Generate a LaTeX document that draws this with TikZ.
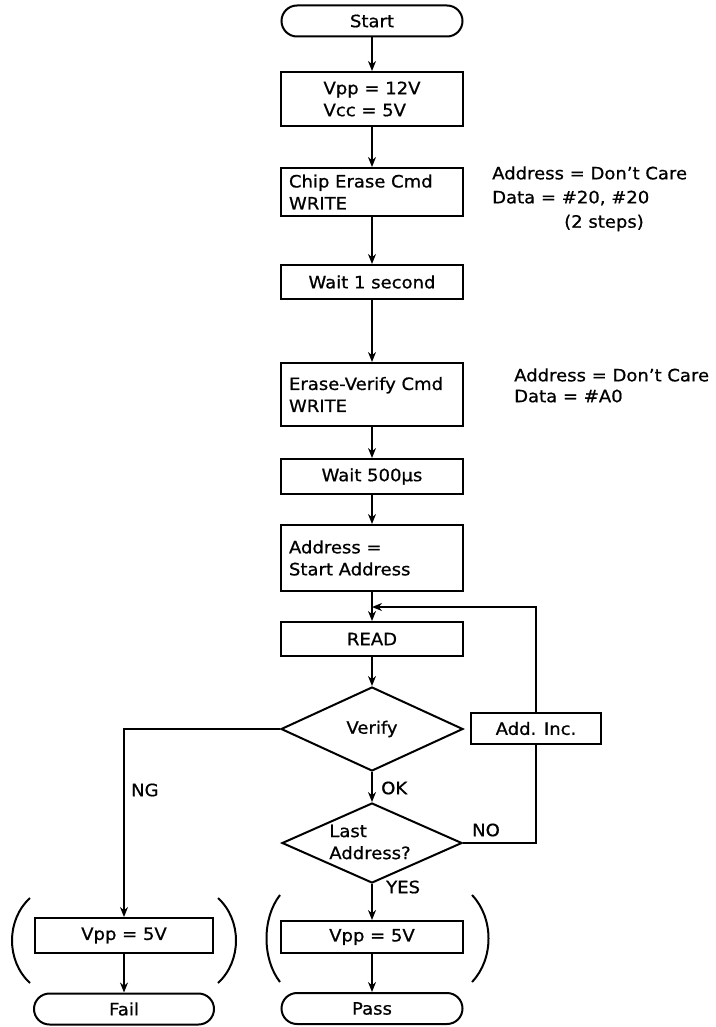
\documentclass[tikz,border=0pt]{standalone}
\usepackage{fontspec}
\setmainfont{DejaVu Sans}[FakeBold=0.8,FakeStretch=1.06]
\usetikzlibrary{shapes.geometric,shapes.misc,arrows.meta}
\begin{document}
\begin{tikzpicture}[x=1pt,y=-1pt,
  every node/.style={font=\fontsize{17}{22}\selectfont, inner sep=0pt},
  box/.style={draw, line width=2pt, rectangle, minimum width=182pt},
  lbox/.style={box, align=left, inner xsep=8pt, text width=166pt},
  term/.style={draw, line width=2pt, rounded rectangle, minimum width=181pt, minimum height=31pt},
  dia/.style={draw, line width=2pt, diamond},
  arr/.style={line width=1.7pt, -{Stealth[length=10pt,width=8pt]}},
  ln/.style={line width=1.7pt},
  par/.style={line width=2pt}
]
\useasboundingbox (0,0) rectangle (715,1027);

% main column
\node[term] (start) at (372,21) {Start};
\node[box, minimum height=54pt, align=left] (v1) at (372,99) {Vpp = 12V\\Vcc = 5V};
\node[lbox, minimum height=48pt] (chip) at (372,192) {Chip Erase Cmd\\WRITE};
\node[box, minimum height=34pt] (wait1) at (372,282) {Wait 1 second};
\node[lbox, minimum height=63pt] (ev) at (372,394.5) {Erase-Verify Cmd\\WRITE};
\node[box, minimum height=35pt] (wait500) at (372,476.5) {Wait 500µs};
\node[lbox, minimum height=66pt] (addr) at (372,558) {Address =\\Start Address};
\coordinate (j) at (372,607);
\node[box, minimum height=34pt] (read) at (372,639) {READ};
\node[dia, minimum width=182pt, minimum height=84pt] (verify) at (372,729) {};
\node (verifyt) at (372,729) {Verify};
\node[box, minimum width=130pt, minimum height=31pt] (addinc) at (536,728.5) {Add. Inc.};
\node[dia, minimum width=180pt, minimum height=80pt] (last) at (372,843) {};
\node[align=left] (lastt) at (370,842) {Last\\Address?};
\coordinate (nocorner) at (536,843);
\node[box, minimum height=32pt] (vppR) at (372,937) {Vpp = 5V};
\node[term] (pass) at (372,1008.5) {Pass};

% fail column
\node[box, minimum width=178pt, minimum height=35pt] (vppL) at (124,935.5) {Vpp = 5V};
\node[term, minimum width=180pt] (fail) at (124,1009) {Fail};

% annotations
\node[anchor=west] (a1) at (492,173) {Address = Don't Care};
\node[anchor=west] (a2) at (492,198) {Data = \#20, \#20};
\node[anchor=west] (a3) at (564,223) {(2 steps)};
\node[anchor=west] (b1) at (514,375) {Address = Don't Care};
\node[anchor=west] (b2) at (514,396) {Data = \#A0};

% labels
\node[anchor=west] (ok) at (381,788) {OK};
\node[anchor=west] (yes) at (386,887) {YES};
\node[anchor=west] (ng) at (131,790) {NG};
\node[anchor=west] (no) at (472,830) {NO};

% connectors
\draw[arr] (start.south) -- (v1.north);
\draw[arr] (v1.south) -- (chip.north);
\draw[arr] (chip.south) -- (wait1.north);
\draw[arr] (wait1.south) -- (ev.north);
\draw[arr] (ev.south) -- (wait500.north);
\draw[arr] (wait500.south) -- (addr.north);
\draw[ln] (addr.south) -- (j);
\draw[arr] (j) -- (read.north);
\draw[arr] (read.south) -- (verify.north);
\draw[arr] (verify.south) -- (last.north);
\draw[arr] (last.south) -- (vppR.north);
\draw[arr] (vppR.south) -- (pass.north);
\draw[arr] (verify.west) -| (vppL.north);
\draw[arr] (vppL.south) -- (fail.north);
\draw[ln] (last.east) -- (nocorner) -- (addinc.south);
\draw[arr] (addinc.north) |- (j);

% parentheses
\draw[par] (30,898) .. controls (6,920) and (6,961) .. (30,983);
\draw[par] (218,898) .. controls (242,920) and (242,961) .. (218,983);
\draw[par] (280,895) .. controls (262,918) and (262,959) .. (280,982);
\draw[par] (472,895) .. controls (494,918) and (494,959) .. (472,982);
\end{tikzpicture}
\end{document}
